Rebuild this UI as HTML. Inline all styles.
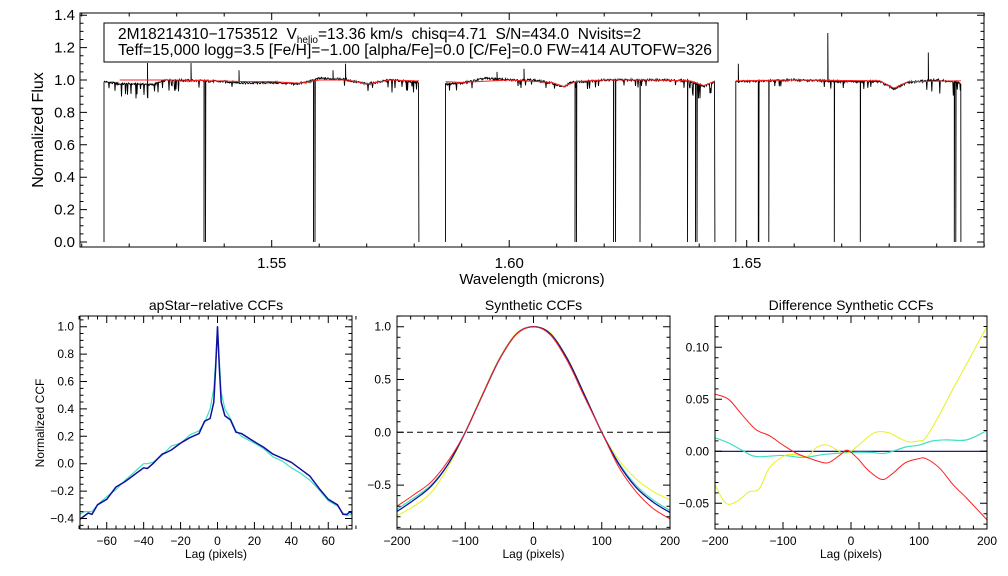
<!DOCTYPE html>
<html><head><meta charset="utf-8"><style>
html,body{margin:0;padding:0;background:#fff;}
svg{display:block;font-family:"Liberation Sans",sans-serif;}
</style></head><body>
<svg id="chart" width="1008" height="576" viewBox="0 0 1008 576" xmlns="http://www.w3.org/2000/svg">
<rect width="1008" height="576" fill="#fff"/>
<g id="top"></g>
<g id="p1"></g>
<g id="p2"></g>
<g id="p3"></g>
</svg>
<script>
// ---- Top spectrum data ----
const segments = [[1.5147,1.5810],[1.5866,1.6433],[1.6477,1.6951]];
const contWave = [1.5147,1.518,1.522,1.525,1.528,1.535,1.54,1.545,1.55,1.555,1.558,1.56,1.565,1.57,1.575,1.581, 1.5866,1.59,1.595,1.60,1.605,1.609,1.6115,1.613,1.62,1.63,1.638,1.641,1.6433, 1.6477,1.66,1.67,1.678,1.681,1.684,1.69,1.6951];
const contFlux = [0.99,0.975,0.975,0.97,1.0,0.995,0.99,0.98,0.985,0.975,0.99,1.01,1.005,0.975,1.0,0.985, 0.975,0.98,1.01,1.0,1.0,0.98,0.955,0.985,1.0,1.0,0.995,0.96,0.99, 0.99,1.0,0.99,0.99,0.945,0.985,1.0,0.98];
const modelWave = [1.518,1.53,1.545,1.55,1.556,1.56,1.566,1.57,1.575,1.58, 1.5866,1.59,1.60,1.609,1.6115,1.614,1.62,1.63,1.638,1.641,1.643, 1.6477,1.66,1.678,1.681,1.684,1.695];
const modelFlux = [1.0,1.0,0.99,0.99,0.98,1.0,1.0,0.975,1.0,0.995, 0.99,0.985,1.0,0.985,0.96,0.99,1.0,1.0,0.995,0.965,0.99, 0.995,1.0,0.995,0.95,0.99,0.995];
const dropWave = [1.5357,1.5361,1.5588,1.5591,1.6139,1.6142,1.6220,1.6224,1.6275,1.6376,1.6392,1.6395,1.6524,1.6525,1.6546,1.6684,1.6739,1.6940,1.6937];
const spikeWave = [1.5239,1.5330,1.5431,1.5629,1.5655,1.5974,1.6031,1.6482,1.6671,1.6882];
const spikeFlux = [1.105,1.105,1.06,1.06,1.10,1.05,1.07,1.10,1.29,1.17];
const yTicksTop = ["0.0","0.2","0.4","0.6","0.8","1.0","1.2","1.4"];
const xTicksTop = [1.55,1.60,1.65];

// ---- CCF data ----
const apLag = [-75,-72,-70,-68,-65,-60,-55,-50,-45,-40,-38,-35,-30,-28,-25,-20,-15,-10,-7,-4,-2,-1,0,1,2,4,7,10,13,20,25,30,35,40,45,50,55,60,65,68,70,72,75];
const apNavy = [-0.41,-0.38,-0.36,-0.37,-0.30,-0.26,-0.17,-0.13,-0.08,-0.03,-0.035,0.0,0.07,0.08,0.10,0.15,0.19,0.22,0.31,0.33,0.45,0.70,1.0,0.70,0.45,0.35,0.32,0.23,0.22,0.16,0.12,0.07,0.04,0.01,-0.04,-0.09,-0.18,-0.26,-0.30,-0.37,-0.37,-0.35,-0.40];
const apCyan = [-0.37,-0.35,-0.35,-0.35,-0.30,-0.24,-0.19,-0.12,-0.06,0.0,0.0,0.01,0.06,0.09,0.13,0.15,0.21,0.24,0.30,0.40,0.55,0.75,1.0,0.75,0.52,0.40,0.33,0.24,0.20,0.15,0.11,0.05,0.02,-0.03,-0.07,-0.12,-0.19,-0.27,-0.31,-0.36,-0.38,-0.37,-0.40];
const synLag = [-200,-175,-150,-125,-100,-75,-50,-25,0,25,50,75,100,125,150,175,200];
const synBlue = [-0.75,-0.64,-0.51,-0.30,0.0,0.35,0.69,0.93,1.0,0.93,0.69,0.35,0.0,-0.30,-0.52,-0.66,-0.76];
const synCyan = [-0.73,-0.62,-0.50,-0.30,0.0,0.35,0.69,0.93,1.0,0.93,0.69,0.35,0.0,-0.29,-0.50,-0.64,-0.74];
const synRed = [-0.70,-0.59,-0.47,-0.27,0.0,0.35,0.69,0.93,1.0,0.92,0.67,0.33,0.0,-0.33,-0.56,-0.72,-0.82];
const synYellow = [-0.79,-0.70,-0.57,-0.33,0.0,0.36,0.70,0.94,1.0,0.94,0.70,0.36,0.0,-0.26,-0.44,-0.56,-0.64];
const difRedLag = [-200,-180,-160,-140,-120,-100,-80,-60,-40,-30,-15,-5,10,25,45,60,80,100,110,130,150,170,200];
const difRed = [0.055,0.050,0.035,0.021,0.015,0.006,-0.002,-0.007,-0.011,-0.010,-0.003,0.001,-0.007,-0.018,-0.027,-0.022,-0.011,-0.007,-0.007,-0.016,-0.032,-0.045,-0.066];
const difYelLag = [-200,-190,-180,-165,-150,-135,-120,-100,-85,-65,-50,-35,-20,-10,0,15,35,55,70,85,100,110,130,150,175,200];
const difYellow = [-0.032,-0.045,-0.051,-0.047,-0.039,-0.036,-0.016,-0.005,-0.003,-0.005,0.004,0.006,0.001,-0.002,0.0,0.008,0.018,0.018,0.013,0.009,0.010,0.013,0.035,0.060,0.090,0.120];
const difCyanLag = [-200,-180,-160,-140,-100,-70,-40,0,30,50,80,100,120,140,170,200];
const difCyan = [0.013,0.008,0.001,-0.005,-0.004,-0.006,-0.003,-0.001,-0.001,-0.002,0.004,0.006,0.010,0.011,0.011,0.020];
const difNavyLag = [-200,200];
const difNavy = [0,0];

const NS="http://www.w3.org/2000/svg";
function mk(parent,tag,attrs,text){const e=document.createElementNS(NS,tag);for(const k in attrs)e.setAttribute(k,attrs[k]);if(text!==undefined)e.textContent=text;parent.appendChild(e);return e;}
function interp(xs,ys,x){if(x<=xs[0])return ys[0];for(let i=1;i<xs.length;i++){if(x<=xs[i]){const t=(x-xs[i-1])/(xs[i]-xs[i-1]);return ys[i-1]+t*(ys[i]-ys[i-1]);}}return ys[ys.length-1];}
function hash(i){const s=Math.sin(i*12.9898+78.233)*43758.5453;return s-Math.floor(s);}

function frame(g,L,R,T,B,xmaj,xmin,xf,ymaj,ymin,yf){
  const fr=mk(g,'rect',{x:L,y:T,width:R-L,height:B-T,fill:'none',stroke:'#000','stroke-width':1});
  
  
  let d='';
  xmin.forEach(v=>{const x=xf(v);d+=`M${x},${B}v-3.5M${x},${T}v3.5`;});
  xmaj.forEach(v=>{const x=xf(v);d+=`M${x},${B}v-7M${x},${T}v7`;});
  ymin.forEach(v=>{const y=yf(v);d+=`M${L},${y}h3.5M${R},${y}h-3.5`;});
  ymaj.forEach(v=>{const y=yf(v);d+=`M${L},${y}h7M${R},${y}h-7`;});
  const tp=mk(g,'path',{d:d,stroke:'#000','stroke-width':1,fill:'none'});
  
  
}
// smooth (catmull-rom) line through data points
function line(g,xs,ys,xf,yf,color,w,name,straight){
  const P=xs.map((x,i)=>[xf(x),yf(ys[i])]);
  let d=`M${P[0][0].toFixed(2)},${P[0][1].toFixed(2)}`;
  for(let i=0;i<P.length-1;i++){
    if(straight){d+=`L${P[i+1][0].toFixed(2)},${P[i+1][1].toFixed(2)}`;continue;}
    const p0=P[Math.max(0,i-1)],p1=P[i],p2=P[i+1],p3=P[Math.min(P.length-1,i+2)];
    const c1=[p1[0]+(p2[0]-p0[0])/6,p1[1]+(p2[1]-p0[1])/6];
    const c2=[p2[0]-(p3[0]-p1[0])/6,p2[1]-(p3[1]-p1[1])/6];
    d+=`C${c1[0].toFixed(2)},${c1[1].toFixed(2)} ${c2[0].toFixed(2)},${c2[1].toFixed(2)} ${p2[0].toFixed(2)},${p2[1].toFixed(2)}`;
  }
  const e=mk(g,'path',{d:d,fill:'none',stroke:color,'stroke-width':w,'stroke-linejoin':'round'});
  
  
}
function range(a,b,s){const r=[];for(let v=a;v<=b+1e-9;v+=s)r.push(+v.toFixed(6));return r;}

// ---- Top panel ----
(function(){
  const g=document.getElementById('top');
  const L=80,R=984,T=13,B=247;
  const xf=w=>271.7+(w-1.55)*4750;
  const yf=f=>242-f*162;
  let d='';
  let idx=0;
  segments.forEach(([a,b])=>{
    const x0=xf(a),x1=xf(b);
    d+=`M${x0.toFixed(1)},${yf(0)}`;
    for(let x=x0;x<=x1;x+=0.5){
      const w=(x-271.7)/4750+1.55;
      let f=interp(contWave,contFlux,w);
      const h=hash(idx++);
      let n=(h-0.5)*0.014;
      if((w<1.531)||(w>1.573&&w<1.581)||(w>1.6385&&w<1.6433)||(w>1.6875&&w<1.6951)){ if(h<0.14) n-=0.02+h*0.45; }
      else if(h<0.04) n-=0.02+h*0.6;
      f+=n;
      d+=`L${x.toFixed(1)},${yf(f).toFixed(1)}`;
      dropWave.forEach(dw=>{if(Math.abs(xf(dw)-x)<0.25){d+=`L${x.toFixed(1)},${yf(0)}L${(x+0.3).toFixed(1)},${yf(f).toFixed(1)}`;}});
      spikeWave.forEach((sw,k)=>{if(Math.abs(xf(sw)-x)<0.25){d+=`L${x.toFixed(1)},${yf(spikeFlux[k]).toFixed(1)}L${(x+0.3).toFixed(1)},${yf(f).toFixed(1)}`;}});
    }
    d+=`L${x1.toFixed(1)},${yf(0)}`;
  });
  const sp=mk(g,'path',{d:d,fill:'none',stroke:'#000','stroke-width':0.9});
  
  
  [[1.518,1.581],[1.5866,1.6433],[1.6477,1.6951]].forEach(([a,b],si)=>{
    const xs=[],ys=[];
    for(let w=a;w<=b;w+=0.0003){xs.push(w);ys.push(interp(modelWave,modelFlux,w));}
    line(g,xs,ys,xf,yf,'#ff2020',1,'model-spectrum-'+(si+1),true);
  });
  frame(g,L,R,T,B,xTicksTop,range(1.51,1.70,0.01),xf,range(0,1.4,0.2),range(0,1.4,0.05),yf);
  yTicksTop.forEach(t=>{const e=mk(g,'text',{x:75,y:yf(+t)+5,'text-anchor':'end','font-size':15},t);});
  xTicksTop.forEach(t=>{const e=mk(g,'text',{x:xf(t),y:268,'text-anchor':'middle','font-size':15},t.toFixed(2));});
  let e=mk(g,'text',{x:532,y:284,'text-anchor':'middle','font-size':15},'Wavelength (microns)');
  e=mk(g,'text',{x:0,y:0,'text-anchor':'middle','font-size':16,transform:'translate(43,130) rotate(-90)'},'Normalized Flux');
  e=mk(g,'rect',{x:104,y:23,width:614,height:39,fill:'#fff',stroke:'#000','stroke-width':1});
  e=mk(g,'text',{x:118,y:39,'font-size':15.5,'xml:space':'preserve'});
  e.innerHTML='2M18214310−1753512\u00a0\u00a0V<tspan font-size="10" dy="4">helio</tspan><tspan dy="-4">=13.36 km/s\u00a0\u00a0chisq=4.71\u00a0\u00a0S/N=434.0\u00a0\u00a0Nvisits=2</tspan>';
  e=mk(g,'text',{x:118,y:55,'font-size':15.5,textLength:594,lengthAdjust:'spacingAndGlyphs'},'Teff=15,000 logg=3.5 [Fe/H]=−1.00 [alpha/Fe]=0.0 [C/Fe]=0.0 FW=414 AUTOFW=326');
})();

function bottomLabels(g,L,R,title,xt,xf,yt,yf,ylabel){
  let e=mk(g,'text',{x:(L+R)/2,y:310,'text-anchor':'middle','font-size':14},title);
  xt.forEach(t=>{e=mk(g,'text',{x:xf(t),y:545,'text-anchor':'middle','font-size':12},String(t).replace('-','−'));});
  yt.forEach(t=>{e=mk(g,'text',{x:L-6,y:yf(+t)+4,'text-anchor':'end','font-size':12},t.replace('-','−'));});
  e=mk(g,'text',{x:(L+R)/2,y:558,'text-anchor':'middle','font-size':12},'Lag (pixels)');
  if(ylabel){e=mk(g,'text',{x:0,y:0,'text-anchor':'middle','font-size':12,transform:'translate(44,423) rotate(-90)'},ylabel);}
}

const p1XTicks=[-60,-40,-20,0,20,40,60];
const p1YTicks=["-0.4","-0.2","0.0","0.2","0.4","0.6","0.8","1.0"];
(function(){
  const g=document.getElementById('p1');
  const L=80,R=352,T=316,B=529;
  const xf=v=>217.5+v*1.846, yf=v=>326.7-(v-1)*137;
  const cp=mk(g,'clipPath',{id:'c1'});mk(cp,'rect',{x:L,y:T,width:R-L,height:B-T});
  const gg=mk(g,'g',{'clip-path':'url(#c1)'});
  line(gg,apLag,apCyan,xf,yf,'#40e0c0',1.2,'ccf-visit-2',true);
  line(gg,apLag,apNavy,xf,yf,'#1010a0',1.5,'ccf-visit-1',true);
  frame(g,L,R,T,B,p1XTicks,range(-75,75,5),xf,p1YTicks.map(Number),range(-0.45,1.05,0.05),yf);
  bottomLabels(g,L,R,'apStar−relative CCFs',p1XTicks,xf,p1YTicks,yf,'Normalized CCF');
})();

const p2XTicks=[-200,-100,0,100,200];
const p2YTicks=["-0.5","0.0","0.5","1.0"];
(function(){
  const g=document.getElementById('p2');
  const L=397,R=670,T=316,B=529;
  const xf=v=>533.5+v*0.6825, yf=v=>432.3-v*105.6;
  const zl=mk(g,'line',{x1:L,x2:R,y1:yf(0),y2:yf(0),stroke:'#000','stroke-dasharray':'6,4','stroke-width':1});
  
  line(g,synLag,synYellow,xf,yf,'#e8f020',1,'syn-ccf-yellow');
  line(g,synLag,synCyan,xf,yf,'#40e0c0',1.2,'syn-ccf-cyan');
  line(g,synLag,synBlue,xf,yf,'#1010a0',1.3,'syn-ccf-blue');
  line(g,synLag,synRed,xf,yf,'#ff2020',1,'syn-ccf-red');
  frame(g,L,R,T,B,p2XTicks,range(-200,200,20),xf,p2YTicks.map(Number),range(-0.9,1.1,0.1),yf);
  bottomLabels(g,L,R,'Synthetic CCFs',p2XTicks,xf,p2YTicks,yf,null);
})();

const p3XTicks=[-200,-100,0,100,200];
const p3YTicks=["-0.05","0.00","0.05","0.10"];
(function(){
  const g=document.getElementById('p3');
  const L=715,R=987,T=316,B=529;
  const xf=v=>851+v*0.68, yf=v=>451.3-v*1040;
  line(g,difNavyLag,difNavy,xf,yf,'#000080',1.2,'diff-ccf-navy',true);
  line(g,difCyanLag,difCyan,xf,yf,'#40e0c0',1.2,'diff-ccf-cyan');
  line(g,difYelLag,difYellow,xf,yf,'#e8f020',1,'diff-ccf-yellow');
  line(g,difRedLag,difRed,xf,yf,'#ff2020',1,'diff-ccf-red');
  frame(g,L,R,T,B,p3XTicks,range(-200,200,20),xf,p3YTicks.map(Number),range(-0.07,0.13,0.01),yf);
  bottomLabels(g,L,R,'Difference Synthetic CCFs',p3XTicks,xf,p3YTicks,yf,null);
})();
</script>
</body></html>
